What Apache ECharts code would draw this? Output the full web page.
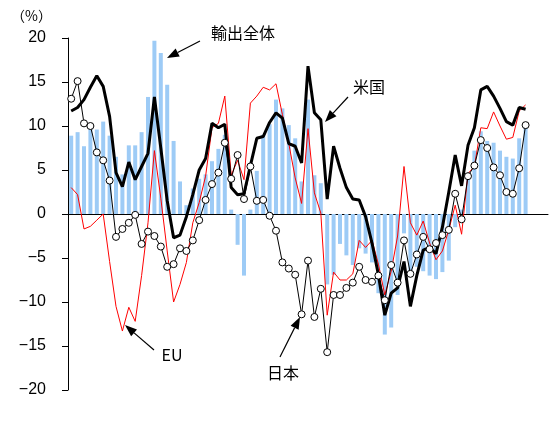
<!DOCTYPE html>
<html><head><meta charset="utf-8">
<script src="https://cdn.jsdelivr.net/npm/echarts@6/dist/echarts.min.js"></script>
<style>html,body{margin:0;padding:0;background:#fff}#c{width:557px;height:423px}</style>
</head><body><div id="c"></div>
<script>
// months 2012/1 .. 2018/3 (last three empty)
const years = [12,13,14,15,16,17,18];
const categories = [];
years.forEach(y => { for (let m = 1; m <= 12; m++) { if (y === 18 && m > 3) break; categories.push(y + '/' + m); } });

const exportsTotal = [8.9,9.3,7.7,10.0,9.6,10.5,8.9,6.5,4.5,7.8,7.8,9.3,
  13.3,19.7,18.3,14.7,8.3,3.7,1.0,2.9,4.0,4.5,6.0,7.4,
  9.0,0.5,-3.5,-7.0,0.5,4.9,9.0,10.2,13.0,12.0,10.1,8.6,
  3.7,13.0,4.4,3.5,-8.0,-6.9,-3.4,-4.7,-5.8,-3.9,-4.5,-5.5,
  -9.0,-13.7,-12.9,-9.2,-2.2,-6.5,-6.0,-6.5,-7.0,-7.4,-6.6,-5.3,
  -1.5,0.5,4.5,7.2,9.4,8.3,8.1,7.2,6.5,6.3,8.6,9.9];
const us = [11.7,12.1,13.0,14.4,15.7,14.5,11.1,4.7,3.1,5.9,3.9,5.4,
  6.9,13.3,7.5,1.5,-2.7,-2.4,-0.3,2.2,5.0,6.3,10.3,9.8,
  10.2,3.0,2.2,2.3,5.5,8.6,8.8,10.4,11.5,10.9,8.0,7.7,
  5.8,16.8,11.5,10.7,1.7,7.7,5.2,3.0,1.7,1.6,-0.3,-3.3,
  -6.9,-11.5,-9.0,-8.4,-5.4,-10.5,-7.0,-4.1,-3.8,-4.5,-1.5,2.5,
  6.7,3.2,7.8,9.8,14.1,14.5,13.4,12.0,10.5,10.1,12.1,11.9];
const eu = [3.0,2.2,-1.7,-1.4,-0.7,0.0,-5.4,-10.5,-13.3,-10.6,-12.2,-7.0,
  -1.0,7.2,1.8,-4.2,-10.0,-8.0,-5.5,-1.0,1.3,4.3,9.8,10.3,
  13.4,4.4,6.1,3.9,12.6,13.4,14.4,14.1,14.8,11.3,8.0,4.1,
  1.2,9.7,2.4,0.1,-11.5,-6.6,-7.5,-7.5,-6.8,-3.0,-3.8,-3.0,
  -5.7,-9.2,-6.5,-2.5,5.4,-1.0,-2.4,-0.8,-3.3,-5.2,-4.2,-1.8,
  1.0,-2.3,4.6,5.4,9.8,9.7,11.6,10.0,8.5,8.7,11.7,12.4];
const japan = [13.1,15.1,10.3,10.0,7.0,6.1,3.8,-2.6,-1.7,-1.0,-0.1,-3.4,
  -2.0,-2.5,-3.7,-6.0,-5.7,-3.9,-4.2,-3.0,-0.7,1.6,3.4,4.7,
  8.1,4.0,6.7,1.7,5.4,1.5,1.6,-0.2,-1.9,-5.5,-6.2,-6.9,
  -11.4,-5.3,-11.7,-8.5,-15.7,-9.2,-9.2,-8.4,-7.8,-6.0,-7.5,-7.7,
  -7.0,-9.8,-5.8,-7.8,-3.0,-6.8,-4.6,-2.6,-4.0,-3.3,-2.4,-1.8,
  2.3,-0.6,4.3,5.5,8.4,7.5,5.3,4.4,2.5,2.3,5.2,10.1];

const yTicks = [-20,-15,-10,-5,0,5,10,15,20];
const seriesNames = ['輸出全体','米国','EU','日本'];

function arrow(x1, y1, x2, y2) {
  const a = Math.atan2(y2 - y1, x2 - x1), L = 12, W = 4.5;
  const bx = x2 - L * Math.cos(a), by = y2 - L * Math.sin(a);
  const px = -Math.sin(a) * W, py = Math.cos(a) * W;
  return [
    { type: 'line', shape: { x1: x1, y1: y1, x2: bx, y2: by }, style: { stroke: '#000', lineWidth: 1.2 }, z: 100 },
    { type: 'polygon', shape: { points: [[x2, y2], [bx + px, by + py], [bx - px, by - py]] }, style: { fill: '#000' }, z: 100 }
  ];
}
function label(t, x, y) {
  return { type: 'text', z: 100, style: { text: t, x: x, y: y, align: 'center', verticalAlign: 'middle',
    font: '16px "Noto Sans CJK JP"', fill: '#000' } };
}

const chart = echarts.init(document.getElementById('c'));
chart.setOption({
  animation: false,
  grid: { left: 68, right: 9, top: 38, bottom: 33, outerBoundsMode: 'none', containLabel: false },
  title: { text: '（%）', left: 6, top: 4, textStyle: { fontSize: 14, fontWeight: 'normal', color: '#000', fontFamily: 'Noto Sans CJK JP' } },
  xAxis: [
    { type: 'category', data: categories, position: 'bottom', boundaryGap: true,
      axisLine: { onZero: true, lineStyle: { color: '#000', width: 1 } },
      axisTick: { interval: 11, length: 5, lineStyle: { color: '#000' } },
      axisLabel: { interval: 11, margin: 188, fontSize: 16, color: '#000', fontFamily: 'Liberation Sans' } },
    { type: 'category', data: categories, position: 'top', boundaryGap: true,
      axisLine: { show: false, onZero: true },
      axisTick: { interval: 11, length: 6, lineStyle: { color: '#000' } },
      axisLabel: { show: false } }
  ],
  yAxis: {
    type: 'value', min: yTicks[0], max: yTicks[yTicks.length - 1], interval: 5,
    splitLine: { show: false },
    axisLine: { show: true, onZero: false, lineStyle: { color: '#000' } },
    axisTick: { show: true, length: 6, lineStyle: { color: '#000' } },
    axisLabel: { margin: 22, fontSize: 16, color: '#000', fontFamily: 'Liberation Sans',
      formatter: v => String(v).replace('-', '\u2212') }
  },
  series: [
    { name: seriesNames[0], type: 'bar', data: exportsTotal, barWidth: 4, itemStyle: { color: '#9dcbf6' }, z: 1 },
    { name: seriesNames[2], type: 'line', data: eu, symbol: 'none', lineStyle: { color: '#ff0000', width: 1 }, z: 3 },
    { name: seriesNames[1], type: 'line', data: us, symbol: 'none', lineStyle: { color: '#000', width: 3 }, z: 4 },
    { name: seriesNames[3], type: 'line', data: japan, symbol: 'circle', symbolSize: 7, showSymbol: true, showAllSymbol: true,
      itemStyle: { color: '#fff', borderColor: '#000', borderWidth: 1 }, lineStyle: { color: '#000', width: 1 }, z: 5 }
  ],
  graphic: [].concat(
    arrow(200, 41, 167, 58), [label('輸出全体', 243, 33)],
    arrow(348, 97, 325, 122), [label('米国', 369, 87)],
    arrow(154, 350, 125, 325), [label('EU', 172, 355)],
    arrow(280, 357, 300, 317), [label('日本', 283, 373)]
  )
});
</script></body></html>
